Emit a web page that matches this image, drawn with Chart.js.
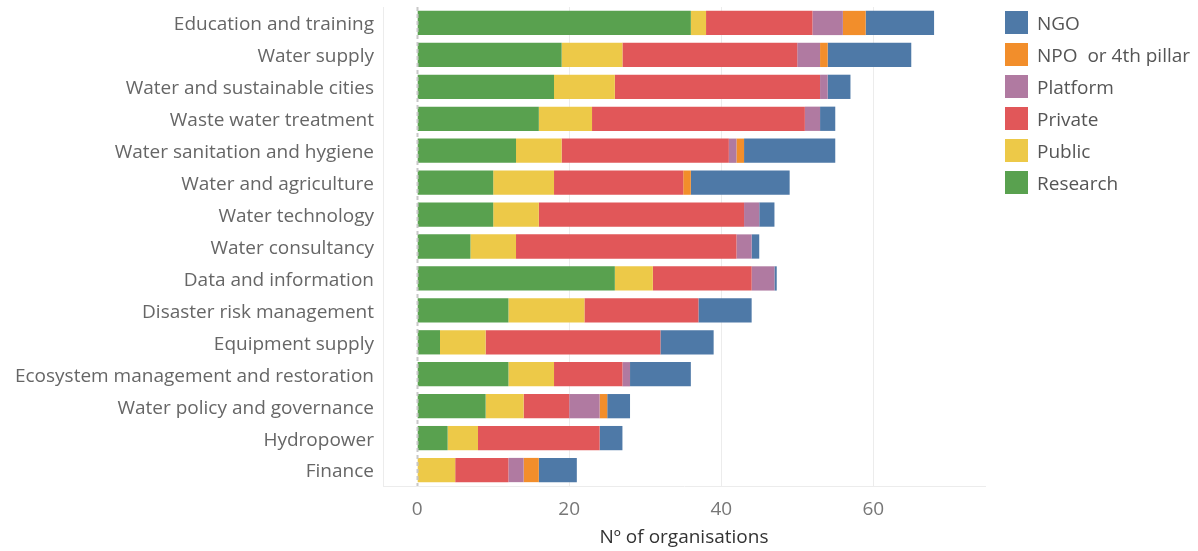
<!DOCTYPE html>
<html lang="en">

<head>
    <meta charset="UTF-8">
    <title>Nº of organisations by theme</title>
    <script src="https://cdn.jsdelivr.net/npm/chart.js"></script>
    <style>
        body { margin: 0; background: #fff; font-family: 'Open Sans', sans-serif; }
        .wrap { position: relative; width: 1198px; height: 551px; }
        .legenda { position: absolute; left: 1005px; top: 11px; }
        .legenda div { height: 23px; margin-bottom: 9px; display: flex; align-items: center; color: #555; font-size: 19px; white-space: pre; }
        .legenda span { display: inline-block; width: 23px; height: 23px; margin-right: 9px; }
    </style>
</head>

<body>
    <div class="wrap">
        <canvas id="grafico" width="1198" height="551"></canvas>
        <div class="legenda" id="legenda"></div>
    </div>
</body>

</html>
<script>
    const categorias = ['Education and training', 'Water supply', 'Water and sustainable cities', 'Waste water treatment',
        'Water sanitation and hygiene', 'Water and agriculture', 'Water technology', 'Water consultancy',
        'Data and information', 'Disaster risk management', 'Equipment supply', 'Ecosystem management and restoration',
        'Water policy and governance', 'Hydropower', 'Finance'];

    const research = [36, 19, 18, 16, 13, 10, 10, 7, 26, 12, 3, 12, 9, 4, 0];
    const publico = [2, 8, 8, 7, 6, 8, 6, 6, 5, 10, 6, 6, 5, 4, 5];
    const privado = [14, 23, 27, 28, 22, 17, 27, 29, 13, 15, 23, 9, 6, 16, 7];
    const platform = [4, 3, 1, 2, 1, 0, 2, 2, 3, 0, 0, 1, 4, 0, 2];
    const npo = [3, 1, 0, 0, 1, 1, 0, 0, 0, 0, 0, 0, 1, 0, 2];
    const ngo = [9, 11, 3, 2, 12, 13, 2, 1, 0.3, 7, 7, 8, 3, 3, 5];

    const ticksX = [0, 20, 40, 60];

    // ordem de empilhamento (esquerda -> direita)
    const series = [
        { label: 'Research', data: research, cor: '#59a14f' },
        { label: 'Public', data: publico, cor: '#edc948' },
        { label: 'Private', data: privado, cor: '#e15759' },
        { label: 'Platform', data: platform, cor: '#b07aa1' },
        { label: 'NPO  or 4th pillar', data: npo, cor: '#f28e2b' },
        { label: 'NGO', data: ngo, cor: '#4e79a7' }
    ];

    // legenda em ordem inversa, como no original
    const legenda = document.getElementById('legenda');
    series.slice().reverse().forEach(s => {
        const item = document.createElement('div');
        item.innerHTML = `<span style="background:${s.cor}"></span>${s.label}`;
        legenda.appendChild(item);
    });

    // linha tracejada no zero
    const linhaZero = {
        id: 'linhaZero',
        afterDatasetsDraw(chart) {
            const x = Math.round(chart.scales.x.getPixelForValue(0)) + 0.5;
            const ctx = chart.ctx;
            ctx.save();
            ctx.strokeStyle = '#c8c8c8';
            ctx.lineWidth = 2;
            ctx.setLineDash([4, 3]);
            ctx.beginPath();
            ctx.moveTo(x, chart.chartArea.top);
            ctx.lineTo(x, chart.chartArea.bottom);
            ctx.stroke();
            ctx.restore();
        }
    };

    const ctx = document.getElementById('grafico').getContext('2d');
    window.grafico = new Chart(ctx, {
        type: 'bar',
        data: {
            labels: categorias,
            datasets: series.map(s => ({
                label: s.label,
                data: s.data,
                backgroundColor: s.cor,
                borderWidth: 0,
                barPercentage: 0.76,
                categoryPercentage: 1
            }))
        },
        options: {
            indexAxis: 'y',
            responsive: false,
            animation: false,
            layout: { padding: { top: 7, right: 213, bottom: 0, left: 0 } },
            plugins: {
                legend: { display: false },
                tooltip: { enabled: false }
            },
            scales: {
                x: {
                    stacked: true,
                    min: -4.5,
                    max: 74.7,
                    afterBuildTicks: s => { s.ticks = ticksX.map(v => ({ value: v })); },
                    afterFit: s => { s.height = 65; s.paddingLeft = 0; s.paddingRight = 0; },
                    grid: {
                        color: c => c.tick && c.tick.value === 0 ? 'rgba(0,0,0,0)' : '#ececec',
                        drawTicks: false
                    },
                    border: { display: true, color: '#ececec' },
                    ticks: { padding: 12, color: '#777', font: { family: 'Open Sans', size: 19 } },
                    title: {
                        display: true,
                        text: 'Nº of organisations',
                        color: '#333',
                        font: { family: 'Open Sans', size: 19 },
                        padding: { top: 0, bottom: 2 }
                    }
                },
                y: {
                    stacked: true,
                    afterFit: s => { s.width = 383; s.paddingTop = 0; s.paddingBottom = 0; },
                    grid: { display: false, drawTicks: false },
                    border: { display: true, color: '#ececec' },
                    ticks: { padding: 9, labelOffset: 2, color: '#666', font: { family: 'Open Sans', size: 19 } }
                }
            }
        },
        plugins: [linhaZero]
    });
</script>
